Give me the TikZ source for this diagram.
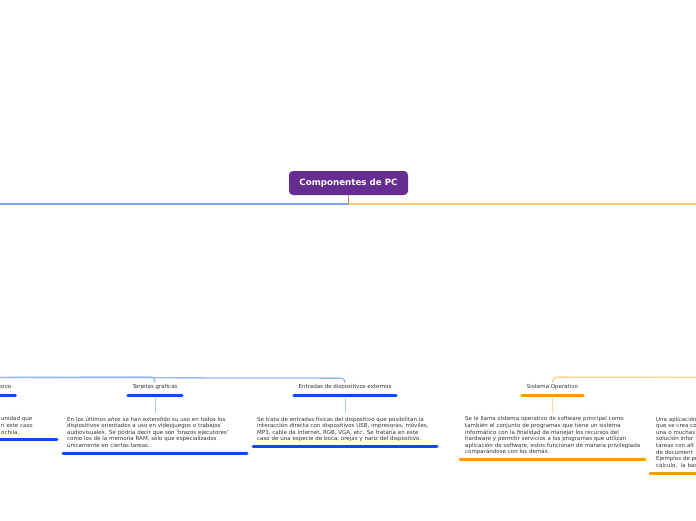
\documentclass[tikz,border=0pt]{standalone}
\usepackage{fontspec}
\newfontfamily\tf{DejaVu Sans}
\usetikzlibrary{calc}
\definecolor{purp}{HTML}{662D91}
\definecolor{mainblue}{HTML}{7FA6EE}
\definecolor{mainorange}{HTML}{FFC973}
\definecolor{bul}{HTML}{0A4BF5}
\definecolor{oul}{HTML}{FF9A00}
\definecolor{bcon}{HTML}{AFC7F3}
\definecolor{ocon}{HTML}{FFD9A3}
\definecolor{bcur}{HTML}{9DB8F0}
\definecolor{ocur}{HTML}{FFD38E}
\definecolor{txt}{HTML}{333333}
\definecolor{stemc}{HTML}{B88A5A}
\newcommand\mydp{\rule[-1.2pt]{0pt}{1.2pt}}
\begin{document}
\begin{tikzpicture}[x=1pt,y=-1pt,
  rootbox/.style={fill=purp, text=white, rounded corners=4pt, minimum width=119pt, minimum height=24pt, inner sep=0pt, font=\tf\bfseries\fontsize{8.7}{10}\selectfont},
  body/.style={font=\tf\fontsize{5.5}{6.6}\selectfont, text=txt, align=left, inner xsep=0pt, inner ysep=0pt, anchor=north west},
  lbl/.style={font=\tf\fontsize{5.5}{6.6}\selectfont, text=txt, inner sep=0pt, anchor=base},
  bu/.style={draw=bul, line width=3pt, line cap=round},
  ou/.style={draw=oul, line width=3pt, line cap=round},
  bc/.style={draw=bcon, line width=1pt},
  oc/.style={draw=ocon, line width=1pt},
  bcurve/.style={draw=bcur, line width=1.3pt},
  ocurve/.style={draw=ocur, line width=1.3pt}]
\useasboundingbox (0,0) rectangle (696,520);

% root
\node[rootbox] (root) at (348.5,183) {Componentes de PC};
\coordinate (hub) at (348.5,203.5);
\coordinate (lend) at (-5,203.5);
\coordinate (rend) at (701,203.5);
\draw[mainblue, line width=2pt] (hub) -- (lend);
\draw[mainorange, line width=2pt] (hub) -- (rend);
\draw[stemc, line width=1pt] (root.south) -- (hub);

% labels
\node[lbl, anchor=base west] (sv) at (0,388.5) {sivo};
\node[lbl, minimum width=54pt] (tg) at (155,388.5) {Tarjetas gráficas};
\node[lbl, minimum width=102pt] (ed) at (345,388.5) {Entradas de dispositivos externos};
\node[lbl, minimum width=61pt] (so) at (552.5,388.5) {Sistema Operativo};

\draw[bu] ($(sv.base west)+(-3,6.5)$) -- ($(sv.base east)+(4,6.5)$);
\draw[bu] ($(tg.base west)+(0,6.5)$) -- ($(tg.base east)+(0,6.5)$);
\draw[bu] ($(ed.base west)+(0,6.5)$) -- ($(ed.base east)+(0,6.5)$);
\draw[ou] ($(so.base west)+(0,6.5)$) -- ($(so.base east)+(0,6.5)$);

% branch curves
\coordinate (bsrc) at (-20,377.5);
\coordinate (osrc) at (716,377.5);
\draw[bcurve] (bsrc) -- ($(tg.north)+(-8,-7)$) .. controls ($(tg.north)+(-1,-7)$) .. ($(tg.north)+(0,-1.5)$);
\draw[bcurve] (bsrc) -- ($(ed.north)+(-8,-6)$) .. controls ($(ed.north)+(-1,-6)$) .. ($(ed.north)+(0,-1.5)$);
\draw[ocurve] (osrc) -- ($(so.north)+(8,-7)$) .. controls ($(so.north)+(1,-7)$) .. ($(so.north)+(0,-1.5)$);

% bodies
\node[body, text width=56pt] (lb) at (1,416.5) {unidad que\\n este caso\\ochila.\mydp};
\node[body, text width=176pt] (tt) at (67,416.5) {En los últimos años se han extendido su uso en todos los\\dispositivos orientados a uso en videojuegos o trabajos\\audiovisuales. Se podría decir que son \textquotesingle brazos ejecutores\textquotesingle\\como los de la memoria RAM, sólo que especializados\\únicamente en ciertas tareas.\mydp};
\node[body, text width=176pt] (et) at (257,416.5) {Se trata de entradas físicas del dispositivo que posibilitan la\\interacción directa con dispositivos USB, impresoras, móviles,\\MP3, cable de internet, RGB, VGA, etc. Se trataría en este\\caso de una especie de boca, orejas y nariz del dispositivo.\mydp};
\node[body, text width=176pt] (st) at (465,416.5) {Se le llama sistema operativo de software principal como\\también el conjunto de programas que tiene un sistema\\informático con la finalidad de manejar los recursos del\\hardware y permitir servicios a los programas que utilizan\\aplicación de software, estos funcionan de manera privilegiada\\comparándose con los demás.\mydp};
\node[body, text width=70pt] (rb) at (656,416.5) {Una aplicación\\que se crea co\\una o muchas\\solución infor\\tareas con alt\\de document\\Ejemplos de pr\\cálculo,\ \ la bas\mydp};

% body underlines
\draw[bu] ($(lb.south west)+(-4,4.3)$) -- ($(lb.south west)+(56,4.3)$);
\draw[bu] ($(tt.south west)+(-4,4.3)$) -- ($(tt.south west)+(180,4.3)$);
\draw[bu] ($(et.south west)+(-4,4.3)$) -- ($(et.south west)+(180,4.3)$);
\draw[ou] ($(st.south west)+(-5,4.3)$) -- ($(st.south west)+(180,4.3)$);
\draw[ou] ($(rb.south west)+(-6,4.3)$) -- ($(rb.south west)+(46,4.3)$);

% vertical connectors
\draw[bc] ($(tg.base)+(0,9)$) -- ($(tg.base |- tt.north)+(0,-3.5)$);
\draw[bc] ($(ed.base)+(0,9)$) -- ($(ed.base |- et.north)+(0,-3.5)$);
\draw[oc] ($(so.base)+(0,9)$) -- ($(so.base |- st.north)+(0,-3.5)$);
\end{tikzpicture}
\end{document}
